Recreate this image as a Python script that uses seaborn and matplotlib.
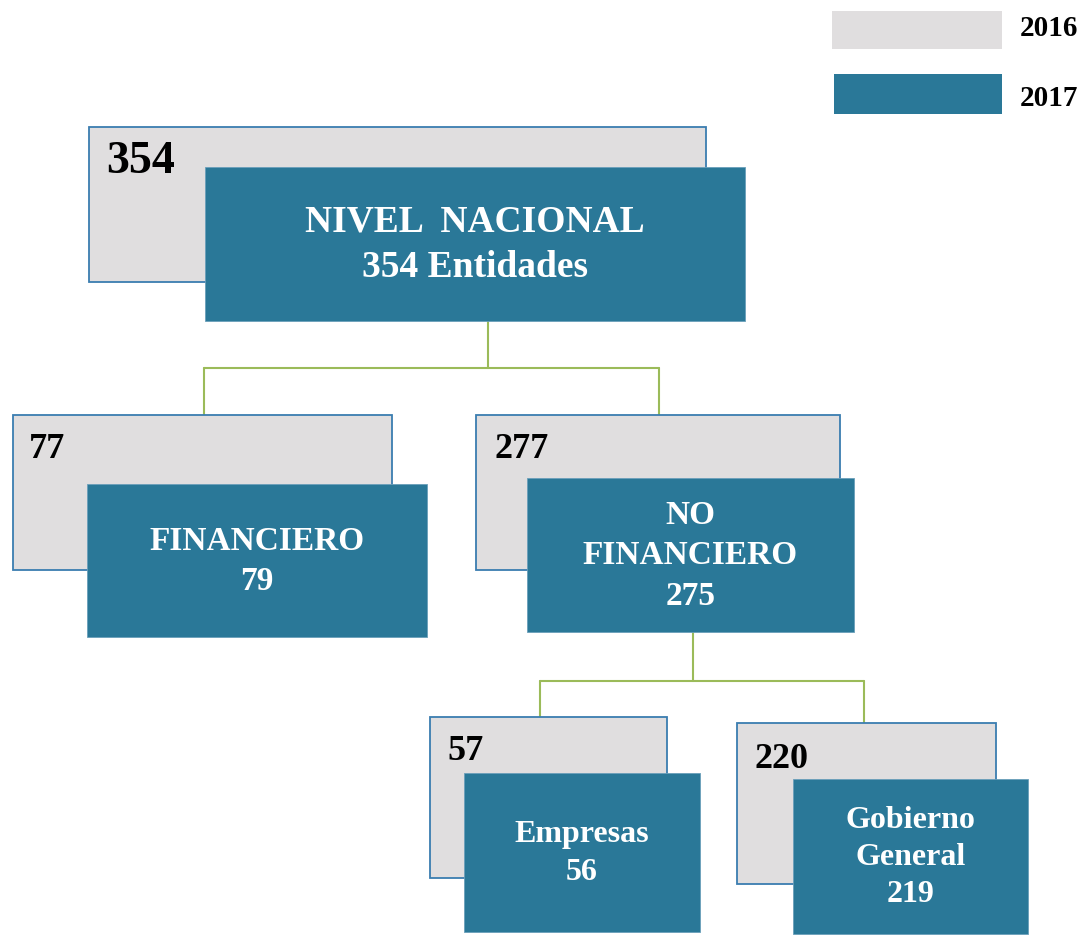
import matplotlib.pyplot as plt
import matplotlib.patches as mpatches
import seaborn as sns

# datos: entidades por sector, 2016 vs 2017
nodes = ["nacional", "financiero", "no_financiero", "empresas", "gobierno"]
names = ["NIVEL  NACIONAL", "FINANCIERO", "NO\nFINANCIERO", "Empresas", "Gobierno\nGeneral"]
count_2016 = [354, 77, 277, 57, 220]
count_2017 = [354, 79, 275, 56, 219]
suffix_2017 = [" Entidades", "", "", "", ""]
years = ["2016", "2017"]
edges = [("nacional", ["financiero", "no_financiero"]),
         ("no_financiero", ["empresas", "gobierno"])]

# posiciones en pixeles (x0, y0, x1, y1) - solo layout
gray_box = {
    "nacional": (89, 127, 706, 282),
    "financiero": (13, 415, 392, 570),
    "no_financiero": (476, 415, 840, 570),
    "empresas": (430, 717, 667, 878),
    "gobierno": (737, 723, 996, 884),
}
teal_box = {
    "nacional": (205, 167, 745, 321),
    "financiero": (87, 484, 427, 637),
    "no_financiero": (527, 478, 854, 632),
    "empresas": (464, 773, 700, 932),
    "gobierno": (793, 779, 1028, 934),
}
num_pos = {
    "nacional": (106, 162, 33),
    "financiero": (29, 449, 26),
    "no_financiero": (494, 450, 26),
    "empresas": (447, 752, 26),
    "gobierno": (754, 759, 26),
}
text_size = {"nacional": 27, "financiero": 24, "no_financiero": 24,
             "empresas": 23, "gobierno": 23}
# punto de union y x de cada rama
junction = {"nacional": (488, 368, [204, 659]),
            "no_financiero": (693, 681, [540, 864])}

gray = "#E0DEDF"
teal = "#2A7898"
edge_blue = "#3A7DB0"
green = "#9BBB59"

sns.set_theme(style="white")
plt.rcParams["font.family"] = ["Liberation Serif", "DejaVu Serif"]

fig = plt.figure(figsize=(10.86, 9.35), dpi=100)
ax = fig.add_axes([0, 0, 1, 1])
ax.set_xlim(0, 1086)
ax.set_ylim(935, 0)
ax.axis("off")

# conectores
for parent, children in edges:
    px, jy, cxs = junction[parent]
    ptop = teal_box[parent][3]
    ax.plot([px, px], [ptop, jy], color=green, lw=1.5)
    ax.plot([cxs[0], px, cxs[1]], [jy, jy, jy], color=green, lw=1.5)
    for c, cx in zip(children, cxs):
        ax.plot([cx, cx], [jy, gray_box[c][1]], color=green, lw=1.5)

for i, n in enumerate(nodes):
    x0, y0, x1, y1 = gray_box[n]
    ax.add_patch(mpatches.Rectangle((x0, y0), x1 - x0, y1 - y0, facecolor=gray,
                                    edgecolor=edge_blue, lw=1.3, zorder=2))
    tx, ty, fs = num_pos[n]
    ax.text(tx, ty, str(count_2016[i]), fontsize=fs, fontweight="bold",
            color="black", ha="left", va="center", zorder=3)
    x0, y0, x1, y1 = teal_box[n]
    ax.add_patch(mpatches.Rectangle((x0, y0), x1 - x0, y1 - y0, facecolor=teal,
                                    edgecolor="#6A9FBA", lw=0.6, zorder=4))
    label = names[i] + "\n" + str(count_2017[i]) + suffix_2017[i]
    ax.text((x0 + x1) / 2, (y0 + y1) / 2 + 1, label, fontsize=text_size[n],
            fontweight="bold", color="white", ha="center", va="center",
            linespacing=1.38, zorder=5)

# leyenda
ax.add_patch(mpatches.Rectangle((832, 11), 170, 38, facecolor=gray, edgecolor="none"))
ax.add_patch(mpatches.Rectangle((834, 74), 168, 40, facecolor=teal, edgecolor="none"))
ax.text(1020, 29, years[0], fontsize=21, fontweight="bold", color="black",
        ha="left", va="center")
ax.text(1020, 98, years[1], fontsize=21, fontweight="bold", color="black",
        ha="left", va="center")

fig.savefig("out.png", dpi=100)
